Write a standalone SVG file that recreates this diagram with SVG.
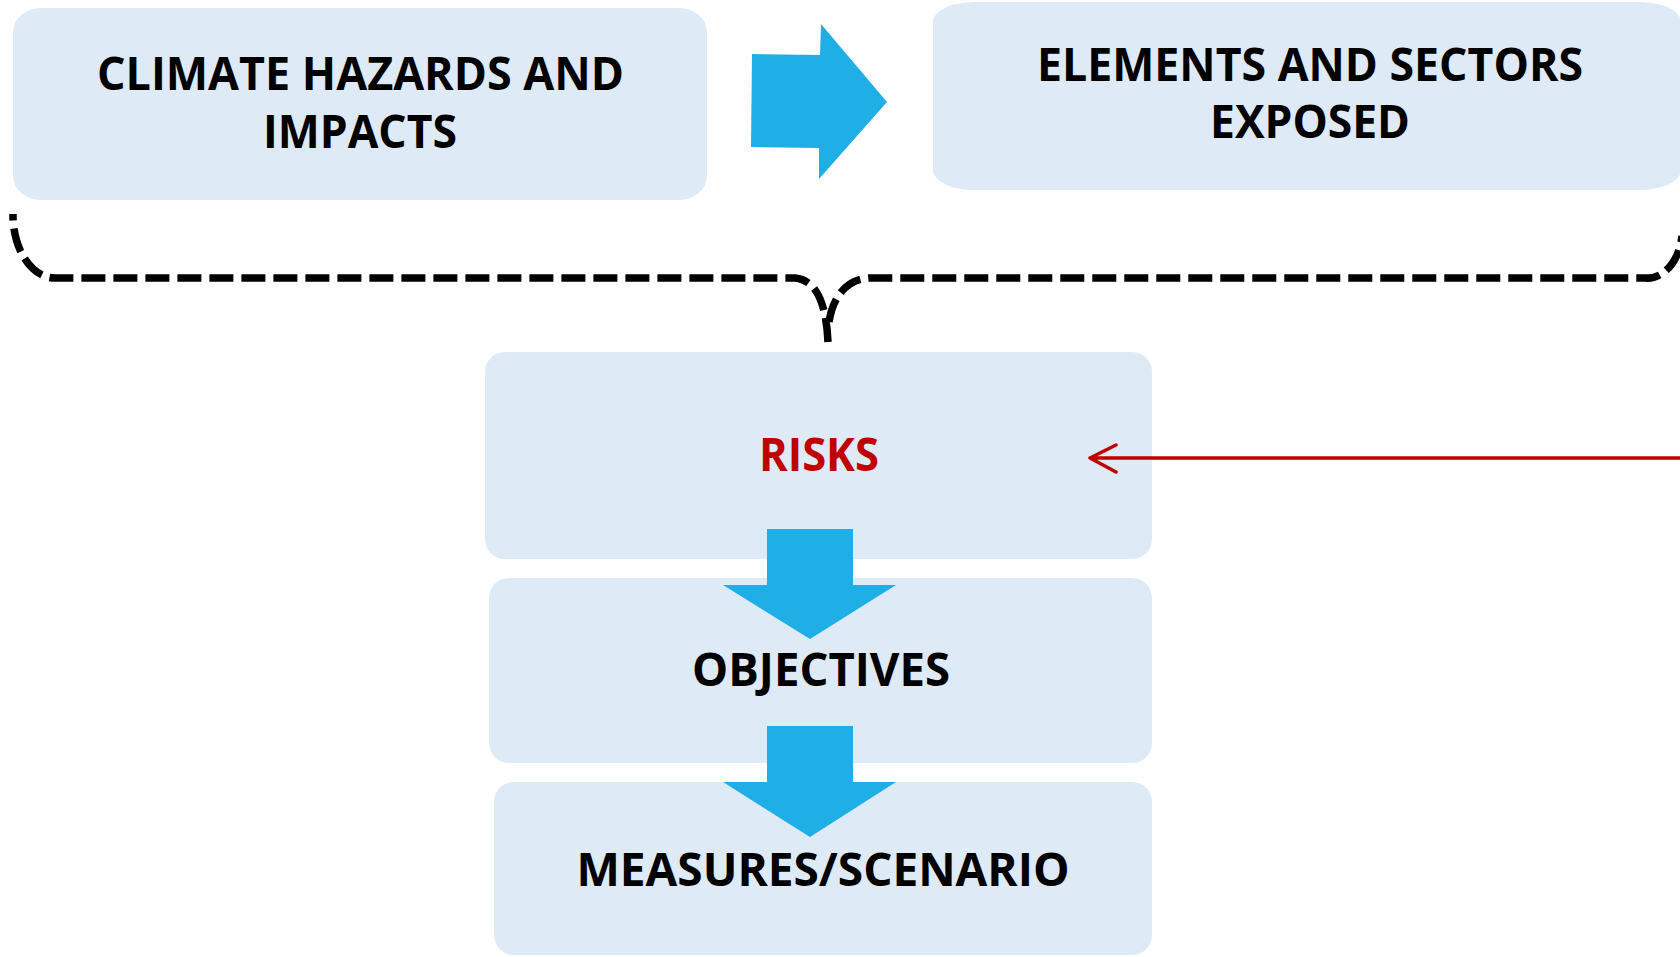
<svg xmlns="http://www.w3.org/2000/svg" width="1680" height="957" viewBox="0 0 1680 957">
<style>
.box{fill:#DEEAF6;}
.lbl{font-family:"Open Sans","Liberation Sans",sans-serif;font-weight:700;font-size:46px;fill:#000;text-anchor:middle;}
.red{fill:#C00000;}
.blue{fill:#1FAEE6;}
.dash{fill:none;stroke:#000;stroke-width:7.5;stroke-dasharray:24 8;}
.redl{fill:none;stroke:#C00000;stroke-width:3.5;stroke-linecap:round;stroke-linejoin:round;}
</style>
<rect width="1680" height="957" fill="#fff"/>
<g id="climate-hazards">
<rect class="box" x="13" y="8" width="694" height="192" rx="28" ry="24"/>
<text class="lbl" x="360.5" y="90" textLength="527" lengthAdjust="spacingAndGlyphs">CLIMATE HAZARDS AND</text>
<text class="lbl" x="360" y="148" textLength="194" lengthAdjust="spacingAndGlyphs">IMPACTS</text>
</g>
<g id="elements-exposed">
<rect class="box" x="933" y="2" width="748" height="188" rx="42" ry="20"/>
<text class="lbl" x="1310" y="81" textLength="546" lengthAdjust="spacingAndGlyphs">ELEMENTS AND SECTORS</text>
<text class="lbl" x="1310" y="138" textLength="200" lengthAdjust="spacingAndGlyphs">EXPOSED</text>
</g>
<g id="risks">
<rect class="box" x="485" y="352" width="667" height="207" rx="20" ry="20"/>
<text class="lbl red" x="819" y="471" textLength="120" lengthAdjust="spacingAndGlyphs">RISKS</text>
</g>
<g id="objectives">
<rect class="box" x="489" y="578" width="663" height="185" rx="20" ry="20"/>
<text class="lbl" x="821" y="686" textLength="258" lengthAdjust="spacingAndGlyphs">OBJECTIVES</text>
</g>
<g id="measures">
<rect class="box" x="494" y="782" width="658" height="173" rx="20" ry="20"/>
<text class="lbl" x="823" y="886" textLength="493" lengthAdjust="spacingAndGlyphs">MEASURES/SCENARIO</text>
</g>
<g id="connectors">
<polygon class="blue" points="752,54 820,55 821,24 887,102 819,179 819,148 751,147"/>
<path class="dash" d="M828,342 C826,300 815,280 795,278 L55,278 A42,63 0 0 1 13,214"/>
<path class="dash" d="M829,322 C833,296 847,279 870,278 L1645,278 A35,50 0 0 0 1682,236"/>
<polygon class="blue" points="767,529 853,529 853,585 896,585 810,639 723,585 767,585"/>
<polygon class="blue" points="767,726 853,726 853,782 896,782 810,837 723,782 767,782"/>
<path class="redl" d="M1682,458 L1090,458 M1116,445 L1090,458 L1116,472"/>
</g>
</svg>
